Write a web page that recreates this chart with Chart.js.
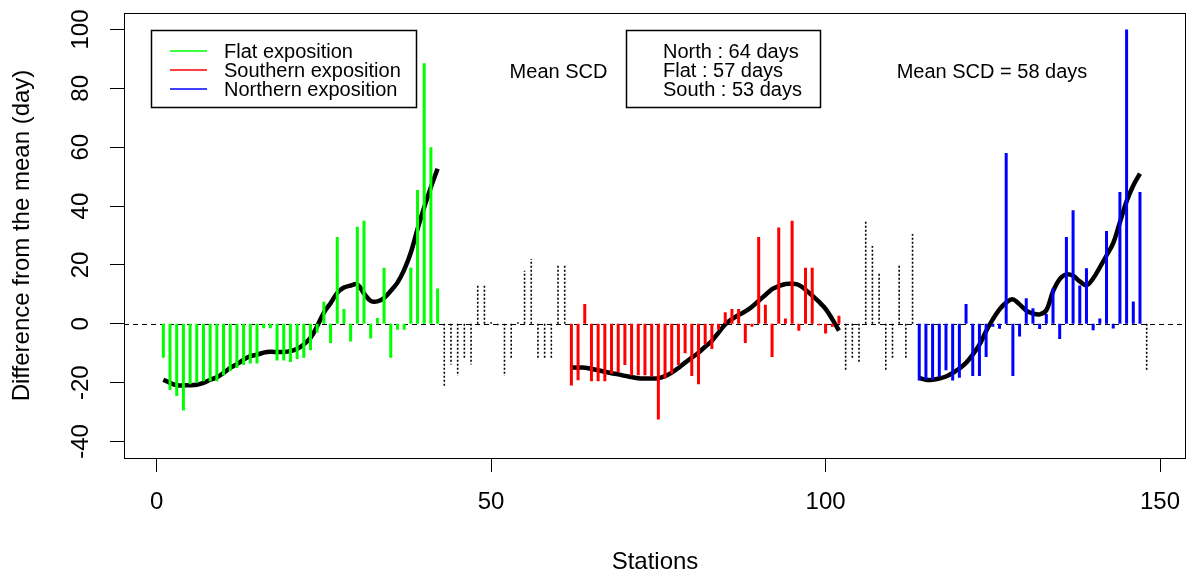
<!DOCTYPE html>
<html>
<head>
<meta charset="utf-8">
<script src="https://cdn.jsdelivr.net/npm/chart.js@4.4.0/dist/chart.umd.min.js"></script>
<style>
html,body{margin:0;padding:0;background:#ffffff;}
#wrap{width:1187px;height:579px;position:relative;}
</style>
</head>
<body>
<div id="wrap"><canvas id="chart" width="1187" height="579"></canvas></div>
<script>
// ---------- DATA (difference from the mean SCD, days) ----------
const xTicks = [0, 50, 100, 150];
const yTicks = [-40, -20, 0, 20, 40, 60, 80, 100];

// Flat exposition, stations 1..42
const flatStart = 1;
const flatValues = [-11.5, -22.5, -24.5, -29.5, -20.5, -20, -19.5, -19.5, -19.5, -17.5,
  -16, -15, -14, -13.5, -13.5, -1.5, -1.5, -12.5, -12.5, -13,
  -12, -11.5, -9, -3, 7.5, -6.5, 29.5, 5, -6, 33,
  35, -5, 2, 19, -11.5, -2, -2, 19, 45.5, 88.5,
  60, 12];
const flatSmooth = [-19, -20.1, -20.9, -20.9, -20.9, -20.7, -20.1, -19, -18.2, -16.7,
  -15, -13.7, -12.2, -11, -10.5, -9.8, -9.5, -9.6, -9.6, -9.3,
  -8.5, -7, -4.8, -0.8, 3.8, 7, 10.5, 12.3, 13, 13.4,
  10.3, 7.8, 7.6, 8.8, 11.2, 14, 18.3, 24.2, 32.2, 39.6,
  46.4, 52.7];

// Other stations, 43..61
const other1Start = 43;
const other1Values = [-21.7, -13.8, -17.7, -11.5, -13.8, 13.5, 13.5, 0.5, -0.5, -17.7,
  -11.5, 0.5, 18, 22, -11.5, -11.5, -11.5, 20, 20];

// Southern exposition, stations 62..102
const southStart = 62;
const southValues = [-21, -19.2, 6.7, -19.5, -19.5, -19.5, -17, -16.5, -14, -17.5,
  -17.5, -17.5, -18, -32.5, -18.5, -17, -14, -10, -17.7, -20.5,
  -7, -8.6, -2, 3.9, 5, 5, -6.5, -1, 29.5, 6.5,
  -11.3, 32.7, 1.8, 35, -2.4, 19, 19, -0.5, -3.3, -1,
  2.7];
const southSmooth = [-14.8, -14.9, -14.9, -15.3, -15.8, -16.3, -16.8, -17.2, -17.7, -18.1,
  -18.5, -18.6, -18.6, -18.5, -17.8, -16.6, -15, -13.2, -11.5, -9.8,
  -7.8, -5.8, -3, -0.2, 1.6, 3, 4.2, 5.8, 7.8, 9.8,
  11.8, 12.8, 13.5, 13.6, 13.2, 11.6, 9.6, 7.5, 5.1, 1.6,
  -2.3];

// Other stations, 103..113
const other2Start = 103;
const other2Values = [-15.6, -11.6, -13.4, 34.8, 26.4, 17.7, -15.6, -11.6, 19.9, -11.6, 30.5];

// Northern exposition, stations 114..147
const northStart = 114;
const northValues = [-19.3, -19, -19, -18, -15.8, -19.3, -18.3, 6.7, -17.7, -17.7,
  -11.3, -1, -1.7, 58, -17.7, -4.3, 8.7, 5.3, -1.8, 3.3,
  12, -5.2, 29.5, 38.6, 13, 18.9, -2.2, 1.8, 31.5, -1.6,
  44.8, 100, 7.6, 44.8];
const northSmooth = [-18.4, -19, -19, -18.6, -17.9, -16.7, -15.2, -13.3, -10.5, -7.1,
  -2.5, 1.5, 4.9, 7.2, 8.3, 6.6, 4.5, 3.5, 3.2, 4.6,
  11, 15.2, 16.8, 16.3, 14.4, 13.1, 15.4, 19.2, 23.2, 27.4,
  34.5, 41.6, 47, 51];

// Other stations, 148
const other3Start = 148;
const other3Values = [-15.8];

const meanLabel = "Mean SCD";
const meanLines = ["North : 64 days", "Flat : 57 days", "South : 53 days"];
const meanAll = "Mean SCD = 58 days";

// ---------- helpers ----------
function spikes(start, values) {
  const pts = [];
  values.forEach((v, k) => {
    const x = start + k;
    pts.push({x: x, y: 0}, {x: x, y: v}, {x: x, y: null});
  });
  return pts;
}
function curve(start, values) {
  return values.map((v, k) => ({x: start + k, y: v}));
}

const FONT = '"Liberation Sans", Arial, sans-serif';
const GREEN = '#00ff00', RED = '#ff0000', BLUE = '#0000ff';

function spikeSet(label, start, values, color) {
  return {label, data: spikes(start, values), borderColor: color, backgroundColor: color,
    borderWidth: 3, pointRadius: 0, spanGaps: false, tension: 0, borderCapStyle: 'butt', inLegend: true};
}
function dottedSet(start, values) {
  return {label: 'Other stations', data: spikes(start, values), borderColor: '#000', borderWidth: 1.6,
    borderDash: [2, 2], pointRadius: 0, spanGaps: false, tension: 0, borderCapStyle: 'butt'};
}
function smoothSet(start, values) {
  return {label: 'Smoothed', data: curve(start, values), borderColor: '#000', borderWidth: 4.5,
    pointRadius: 0, tension: 0.35, borderCapStyle: 'butt', borderJoinStyle: 'round'};
}

const datasets = [
  spikeSet('Flat exposition', flatStart, flatValues, GREEN),
  spikeSet('Southern exposition', southStart, southValues, RED),
  spikeSet('Northern exposition', northStart, northValues, BLUE),
  dottedSet(other1Start, other1Values),
  dottedSet(other2Start, other2Values),
  dottedSet(other3Start, other3Values),
  smoothSet(flatStart, flatSmooth),
  smoothSet(southStart, southSmooth),
  smoothSet(northStart, northSmooth)
];
const LAST_SPIKE_INDEX = 5;

// zero reference line drawn after the spikes, below the smoothed curves
const zeroLine = {
  id: 'zeroLine',
  afterDatasetDraw(chart, args) {
    if (args.index !== LAST_SPIKE_INDEX) return;
    const {ctx, chartArea: a, scales: {y}} = chart;
    const py = Math.round(y.getPixelForValue(0)) + 0.5;
    ctx.save();
    ctx.beginPath();
    ctx.rect(a.left, a.top, a.right - a.left, a.bottom - a.top);
    ctx.clip();
    ctx.strokeStyle = '#000';
    ctx.lineWidth = 1.2;
    ctx.setLineDash([5, 4]);
    ctx.beginPath();
    ctx.moveTo(a.left, py);
    ctx.lineTo(a.right, py);
    ctx.stroke();
    ctx.restore();
  }
};

const frameAndNotes = {
  id: 'frameAndNotes',
  afterDraw(chart) {
    const ctx = chart.ctx;
    const a = chart.chartArea;
    ctx.save();
    ctx.strokeStyle = '#000';
    ctx.lineWidth = 1;
    ctx.setLineDash([]);
    ctx.strokeRect(Math.round(a.left) + 0.5, Math.round(a.top) + 0.5,
      Math.round(a.right - a.left) - 1, Math.round(a.bottom - a.top));

    ctx.font = '20px ' + FONT;
    ctx.fillStyle = '#000';
    ctx.textBaseline = 'middle';

    // legend
    ctx.lineWidth = 1.5;
    ctx.strokeRect(151.5, 30.5, 265, 77);
    const items = chart.data.datasets.filter(d => d.inLegend);
    items.forEach((d, k) => {
      const ty = 52 + k * 19;
      ctx.strokeStyle = d.borderColor;
      ctx.lineWidth = 1.5;
      ctx.beginPath();
      ctx.moveTo(170, ty - 1);
      ctx.lineTo(207, ty - 1);
      ctx.stroke();
      ctx.textAlign = 'left';
      ctx.fillText(d.label, 224, ty);
    });

    // mean SCD by exposition
    ctx.strokeStyle = '#000';
    ctx.lineWidth = 1.5;
    ctx.strokeRect(626.5, 30.5, 194, 77);
    ctx.textAlign = 'center';
    ctx.fillText(meanLabel, 558.5, 72.5);
    ctx.textAlign = 'left';
    meanLines.forEach((t, k) => ctx.fillText(t, 663, 52 + k * 19));
    ctx.textAlign = 'center';
    ctx.fillText(meanAll, 992, 72);
    ctx.restore();
  }
};

new Chart(document.getElementById('chart'), {
  type: 'line',
  data: {datasets},
  options: {
    responsive: false,
    animation: false,
    devicePixelRatio: 1,
    layout: {padding: {top: 13, right: 1, left: 0, bottom: 0}},
    plugins: {legend: {display: false}, tooltip: {enabled: false}, title: {display: false}},
    elements: {line: {fill: false}},
    scales: {
      x: {
        type: 'linear',
        min: -4.88, max: 153.88,
        afterBuildTicks: s => { s.ticks = xTicks.map(v => ({value: v})); },
        afterFit: s => { s.height = 121; s.paddingLeft = 0; s.paddingRight = 0; },
        grid: {display: true, drawOnChartArea: false, drawTicks: true, tickLength: 14, tickColor: '#000', tickWidth: 1},
        border: {display: false},
        ticks: {color: '#000', font: {size: 24, family: FONT}, padding: 16, maxRotation: 0, autoSkip: false},
        title: {display: true, text: 'Stations', color: '#000', font: {size: 24, family: FONT}, padding: {top: 0, bottom: 2}}
      },
      y: {
        type: 'linear',
        min: -45.6, max: 105.6,
        afterBuildTicks: s => { s.ticks = yTicks.map(v => ({value: v})); },
        afterFit: s => { s.width = 124; s.paddingTop = 0; s.paddingBottom = 0; },
        grid: {display: true, drawOnChartArea: false, drawTicks: true, tickLength: 14, tickColor: '#000', tickWidth: 1},
        border: {display: false},
        ticks: {color: '#000', font: {size: 24, family: FONT}, padding: 9, minRotation: 90, maxRotation: 90,
          crossAlign: 'center', autoSkip: false},
        title: {display: true, text: 'Difference from the mean (day)', color: '#000',
          font: {size: 24, family: FONT}, padding: {top: 8, bottom: 0}}
      }
    }
  },
  plugins: [zeroLine, frameAndNotes]
});
</script>
</body>
</html>
